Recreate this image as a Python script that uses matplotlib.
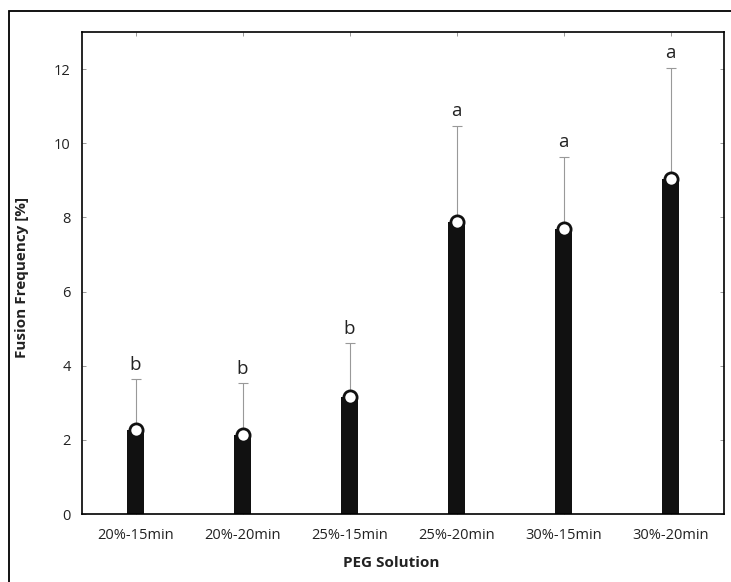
import matplotlib
matplotlib.use("Agg")
import matplotlib.pyplot as plt
from matplotlib.patches import Rectangle
import numpy as np

# PEG treatments and measured fusion frequency (mean, upper error)
categories = ["20%-15min", "20%-20min", "25%-15min", "25%-20min", "30%-15min", "30%-20min"]
means = [2.26, 2.13, 3.15, 7.88, 7.69, 9.04]
err_top = [3.63, 3.52, 4.60, 10.47, 9.63, 12.03]
letters = ["b", "b", "b", "a", "a", "a"]
yticks = [0, 2, 4, 6, 8, 10, 12]

plt.rcParams['font.family'] = ['Open Sans', 'DejaVu Sans']

fig = plt.figure(figsize=(7.31, 5.82), dpi=100)
ax = fig.add_axes([82 / 731, 1 - 514 / 582, 642 / 731, 482 / 582])

# outer frame (runs off the right and bottom edge)
fig.patches.append(Rectangle((9 / 731, -0.05), 1.1, 1 - 11 / 582 + 0.05,
                             transform=fig.transFigure, fill=False,
                             edgecolor="black", linewidth=1.3, clip_on=False))

x = np.arange(len(categories))
means = np.array(means)
errs = np.array(err_top) - means

ax.bar(x, means, width=0.15, color="#111111", zorder=2)
ax.errorbar(x, means, yerr=[np.zeros_like(errs), errs], fmt="none",
            ecolor="#999999", elinewidth=0.8, capsize=3.6, capthick=0.8, zorder=1)
# rounded top with white dot
ax.plot(x, means, "o", ms=9.5, mfc="white", mec="#111111", mew=2.0, zorder=3)

for xi, top, lab in zip(x, err_top, letters):
    ax.text(xi, top + 0.15, lab, ha="center", va="bottom", fontsize=13.5, color="#222222")

ax.set_xlim(-0.5, 5.5)
ax.set_ylim(0, 13)
ax.set_xticks(x)
ax.set_xticklabels(categories)
ax.set_yticks(yticks)

ax.tick_params(axis="both", direction="in", length=3, width=0.6, color="#888888",
               labelsize=10.5, labelcolor="#222222", top=True, right=True)
ax.tick_params(axis="x", pad=10)
ax.tick_params(axis="y", pad=8)

for s in ax.spines.values():
    s.set_linewidth(1.2)
    s.set_color("black")

ax.set_xlabel("PEG Solution", fontsize=11, fontweight="bold", color="#222222")
ax.xaxis.set_label_coords((391 - 82) / 642, -0.088)
ax.set_ylabel("Fusion Frequency [%]", fontsize=11, fontweight="bold", color="#222222")
ax.yaxis.set_label_coords(-0.082, 0.49)

fig.savefig("out.png", dpi=100)
